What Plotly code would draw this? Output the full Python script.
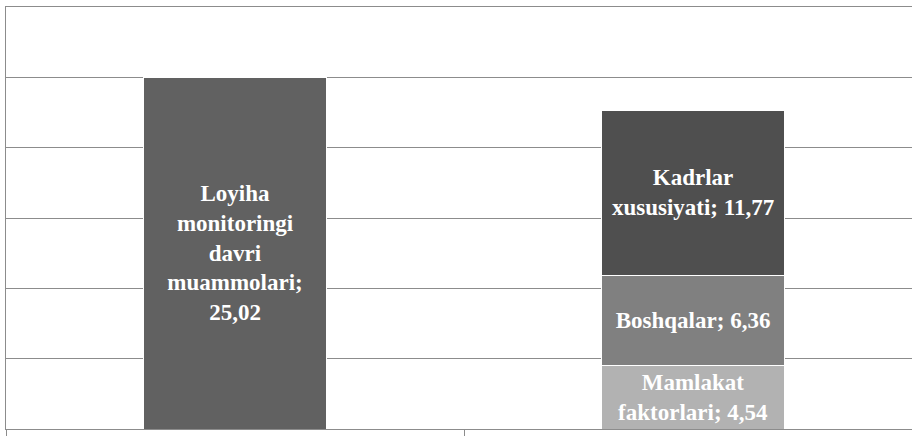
import plotly.graph_objects as go

categories = ["1", "2"]

left_name = "Loyiha monitoringi davri muammolari"
left_value = 25.02

stack_names = ["Mamlakat faktorlari", "Boshqalar", "Kadrlar xususiyati"]
stack_values = [4.54, 6.36, 11.77]

left_label = "Loyiha<br>monitoringi<br>davri<br>muammolari;<br>25,02"
stack_labels = ["Mamlakat<br>faktorlari; 4,54", "Boshqalar; 6,36", "Kadrlar<br>xususiyati; 11,77"]

stack_colors = ["#b2b2b2", "#808080", "#4f4f4f"]
left_color = "#616161"

font_family = "Liberation Serif, Times New Roman, serif"
label_font = dict(family=font_family, size=23, color="white", weight="bold")

fig = go.Figure()
fig.add_trace(go.Bar(
    x=[categories[0]], y=[left_value], name=left_name,
    marker=dict(color=left_color, line=dict(color="white", width=1)),
    text=[left_label], textposition="inside", insidetextanchor="middle",
    textangle=0, constraintext="none", textfont=label_font,
))
for name, val, lab, col in zip(stack_names, stack_values, stack_labels, stack_colors):
    fig.add_trace(go.Bar(
        x=[categories[1]], y=[val], name=name,
        marker=dict(color=col, line=dict(color="white", width=1)),
        text=[lab], textposition="inside", insidetextanchor="middle",
        textangle=0, constraintext="none", textfont=label_font,
    ))

fig.update_layout(
    width=912, height=441,
    margin=dict(l=6, r=0, t=7, b=12),
    barmode="stack", bargap=0.6,
    showlegend=False,
    plot_bgcolor="white", paper_bgcolor="white",
)
fig.update_xaxes(
    type="category", range=[-0.5, 1.478],
    showticklabels=False, showgrid=False,
    showline=True, linecolor="#8c8c8c", linewidth=1, mirror=True,
    ticks="outside", tickson="boundaries", ticklen=6, tickcolor="#8c8c8c",
    zeroline=False,
)
fig.update_yaxes(
    range=[0, 30], dtick=5, showticklabels=False,
    showgrid=True, gridcolor="#8c8c8c", gridwidth=1,
    showline=True, linecolor="#8c8c8c", linewidth=1,
    zeroline=False,
)

fig.write_html("out.html", config={"displayModeBar": False},
               post_script="document.body.style.margin='0';")
